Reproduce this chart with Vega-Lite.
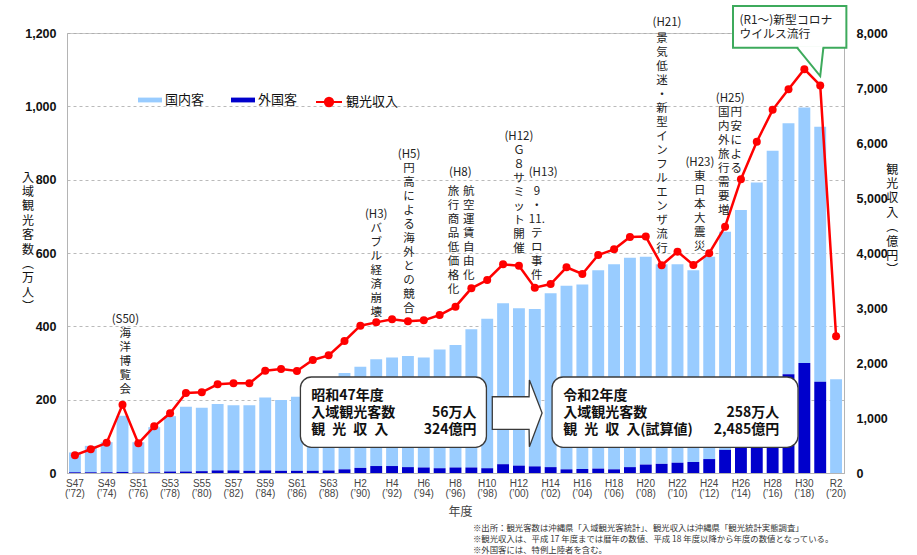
{
  "$schema": "https://vega.github.io/schema/vega-lite/v6.json",
  "width": 777,
  "height": 440,
  "autosize": {"type": "none"},
  "padding": {"left": 67, "top": 33, "right": 73, "bottom": 82},
  "background": "white",
  "config": {
    "font": "Noto Sans CJK JP",
    "view": {"stroke": "#c8c8c8", "strokeWidth": 1},
    "axis": {"domainColor": "#b4b4b4", "ticks": false}
  },
  "datasets": {
    "stats": [
      {"fy": 1972, "国内客": 54, "外国客": 2, "観光収入": 324},
      {"fy": 1973, "国内客": 72, "外国客": 2, "観光収入": 432},
      {"fy": 1974, "国内客": 82, "外国客": 2, "観光収入": 548},
      {"fy": 1975, "国内客": 153, "外国客": 3, "観光収入": 1242},
      {"fy": 1976, "国内客": 83, "外国客": 1, "観光収入": 539},
      {"fy": 1977, "国内客": 123, "外国客": 2, "観光収入": 848},
      {"fy": 1978, "国内客": 151, "外国客": 4, "観光収入": 1085},
      {"fy": 1979, "国内客": 177, "外国客": 4, "観光収入": 1455},
      {"fy": 1980, "国内客": 173, "外国客": 5, "観光収入": 1467},
      {"fy": 1981, "国内客": 181, "外国客": 7, "観光収入": 1612},
      {"fy": 1982, "国内客": 178, "外国客": 7, "観光収入": 1630},
      {"fy": 1983, "国内客": 179, "外国客": 6, "観光収入": 1630},
      {"fy": 1984, "国内客": 199, "外国客": 7, "観光収入": 1861},
      {"fy": 1985, "国内客": 193, "外国客": 6, "観光収入": 1891},
      {"fy": 1986, "国内客": 202, "外国客": 6, "観光収入": 1855},
      {"fy": 1987, "国内客": 220, "外国客": 6, "観光収入": 2055},
      {"fy": 1988, "国内客": 233, "外国客": 7, "観光収入": 2139},
      {"fy": 1989, "国内客": 263, "外国客": 10, "観光収入": 2400},
      {"fy": 1990, "国内客": 276, "外国客": 14, "観光収入": 2679},
      {"fy": 1991, "国内客": 291, "外国客": 19, "観光収入": 2739},
      {"fy": 1992, "国内客": 296, "外国客": 19, "観光収入": 2794},
      {"fy": 1993, "国内客": 303, "外国客": 16, "観光収入": 2758},
      {"fy": 1994, "国内客": 300, "外国客": 15, "観光収入": 2776},
      {"fy": 1995, "国内客": 324, "外国客": 13, "観光収入": 2873},
      {"fy": 1996, "国内客": 334, "外国客": 15, "観光収入": 3024},
      {"fy": 1997, "国内客": 377, "外国客": 15, "観光収入": 3358},
      {"fy": 1998, "国内客": 408, "外国客": 13, "観光収入": 3509},
      {"fy": 1999, "国内客": 439, "外国客": 24, "観光収入": 3794},
      {"fy": 2000, "国内客": 429, "外国客": 20, "観光収入": 3770},
      {"fy": 2001, "国内客": 429, "外国客": 18, "観光収入": 3370},
      {"fy": 2002, "国内客": 474, "外国客": 16, "観光収入": 3436},
      {"fy": 2003, "国内客": 501, "外国客": 10, "観光収入": 3739},
      {"fy": 2004, "国内客": 503, "外国客": 11, "観光収入": 3618},
      {"fy": 2005, "国内客": 541, "外国客": 12, "観光収入": 3964},
      {"fy": 2006, "国内客": 559, "外国客": 10, "観光収入": 4067},
      {"fy": 2007, "国内客": 571, "外国客": 16, "観光収入": 4289},
      {"fy": 2008, "国内客": 567, "外国客": 23, "観光収入": 4299},
      {"fy": 2009, "国内客": 544, "外国客": 25, "観光収入": 3778},
      {"fy": 2010, "国内客": 541, "外国客": 28, "観光収入": 4025},
      {"fy": 2011, "国内客": 523, "外国客": 30, "観光収入": 3783},
      {"fy": 2012, "国内客": 552, "外国客": 38, "観光収入": 3997},
      {"fy": 2013, "国内客": 595, "外国客": 63, "観光収入": 4479},
      {"fy": 2014, "国内客": 628, "外国客": 89, "観光収入": 5342},
      {"fy": 2015, "国内客": 625, "外国客": 167, "観光収入": 6022},
      {"fy": 2016, "国内客": 666, "外国客": 213, "観光収入": 6603},
      {"fy": 2017, "国内客": 685, "外国客": 269, "観光収入": 6979},
      {"fy": 2018, "国内客": 697, "外国客": 300, "観光収入": 7341},
      {"fy": 2019, "国内客": 695, "外国客": 249, "観光収入": 7047},
      {"fy": 2020, "国内客": 256, "外国客": 0, "観光収入": 2485}
    ],
    "vtext": [
      {"x": 1975.18, "y": 433.6, "t": "(S50)\n海\n洋\n博\n覧\n会"},
      {"x": 1991.0, "y": 720, "t": "(H3)\nバ\nブ\nル\n経\n済\n崩\n壊"},
      {"x": 1993.07, "y": 883.6, "t": "(H5)\n円\n高\nに\nよ\nる\n海\n外\nと\nの\n競\n合"},
      {"x": 1996.3, "y": 833.7, "t": "(H8)"},
      {"x": 1995.88, "y": 783.5, "t": "旅\n行\n商\n品\n低\n価\n格\n化"},
      {"x": 1996.83, "y": 783.5, "t": "航\n空\n運\n賃\n自\n由\n化"},
      {"x": 2000.0, "y": 933.5, "t": "(H12)\nＧ\n８\nサ\nミ\nッ\nト\n開\n催"},
      {"x": 2001.53, "y": 834.5, "t": "(H13)"},
      {"x": 2001.13, "y": 782, "t": "9\n・\n11.\nテ\nロ\n事\n件"},
      {"x": 2009.34, "y": 1242.8, "t": "(H21)"},
      {"x": 2009.02, "y": 1199, "t": "景\n気\n低\n迷\n・\n新\n型\nイ\nン\nフ\nル\nエ\nン\nザ\n流\n行"},
      {"x": 2011.41, "y": 861, "t": "(H23)\n東\n日\n本\n大\n震\n災"},
      {"x": 2013.33, "y": 1035.5, "t": "(H25)"},
      {"x": 2012.91, "y": 997.4, "t": "国\n内\n外\n旅\n行\n需\n要\n増"},
      {"x": 2013.7, "y": 997.4, "t": "円\n安\nに\nよ\nる"}
    ],
    "boxes": [
      {"x": 1986.22, "x2": 1997.95, "y": 261.8, "y2": 70.1},
      {"x": 2002.09, "x2": 2017.6, "y": 261.8, "y2": 70.1}
    ],
    "callout": [
      {"x": 2013.5, "x2": 2020.65, "y": 1273.6, "y2": 1160}
    ],
    "arrow": [
      {"x": 1998.32, "y": 208, "y2": 119},
      {"x": 2000.64, "y": 208, "y2": 119},
      {"x": 2000.66, "y": 253.6, "y2": 71.7},
      {"x": 2001.46, "y": 163.6, "y2": 163.6}
    ],
    "gap": [{"x": 2017.62, "x2": 2019.15, "y": 1160}],
    "pointer": [
      {"x": 2017.54, "y": 1160},
      {"x": 2019.0, "y": 1082.7},
      {"x": 2019.2, "y": 1160}
    ],
    "boxleft": [
      {"x": 1986.9, "y": 229.9, "t": "昭和47年度\n入域観光客数\n観\u2002光\u2002収\u2002入"},
      {"x": 2002.8, "y": 229.9, "t": "令和2年度\n入域観光客数\n観\u2002光\u2002収\u2002入(試算値)"}
    ],
    "boxright": [
      {"x": 1997.33, "y": 181.9, "t": "56万人\n324億円"},
      {"x": 2016.42, "y": 181.9, "t": "258万人\n2,485億円"}
    ],
    "callouttext": [
      {"x": 2013.91, "y": 1250, "t": "(R1～)新型コロナ\nウイルス流行"}
    ],
    "notes": [
      {"x": 1997.1, "y": -139, "t": "※出所：観光客数は沖縄県「入域観光客統計」、観光収入は沖縄県「観光統計実態調査」\n※観光収入は、平成 17 年度までは暦年の数値、平成 18 年度以降から年度の数値となっている。\n※外国客には、特例上陸者を含む。"}
    ]
  },
  "layer": [
    {
      "data": {"name": "stats"},
      "transform": [{"fold": ["国内客", "外国客"], "as": ["区分", "客数"]}],
      "mark": {"type": "bar"},
      "encoding": {
        "x": {
          "field": "fy", "type": "ordinal",
          "scale": {"paddingInner": 0.25, "paddingOuter": 0.125},
          "axis": {
            "title": "年度", "labelAngle": 0, "labelOverlap": false,
            "labelExpr": "datum.value % 2 == 0 ? [datum.value < 1989 ? 'S' + (datum.value - 1925) : (datum.value < 2019 ? 'H' + (datum.value - 1988) : 'R' + (datum.value - 2018)), '(’' + substring(toString(datum.value), 2, 4) + ')'] : ''",
            "labelFont": "Liberation Sans", "labelFontSize": 10, "labelLineHeight": 10.5,
            "labelPadding": 5, "labelColor": "#444",
            "titleFont": "Noto Sans CJK JP", "titleFontSize": 12, "titleFontWeight": "normal", "titleColor": "#444",
            "titleX": 393, "titleY": 38, "titleBaseline": "middle", "titleAlign": "center"
          }
        },
        "y": {
          "field": "客数", "type": "quantitative", "stack": "zero",
          "scale": {"domain": [0, 1200], "nice": false},
          "axis": {
            "values": [0, 200, 400, 600, 800, 1000, 1200], "format": ",.0f",
            "grid": true, "gridDash": [3, 3], "gridColor": "#a8a8a8", "gridWidth": 0.8,
            "labelFont": "Liberation Sans", "labelFontWeight": "bold", "labelFontSize": 12.5,
            "labelColor": "#111", "labelPadding": 11,
            "title": ["入", "域", "観", "光", "客", "数", "︵", "万", "人", "︶"],
            "titleAngle": 0, "titleX": -39.5, "titleY": 139, "titleBaseline": "top", "titleAlign": "center",
            "titleFontSize": 12, "titleFontWeight": "normal", "titleLineHeight": 14.4, "titleColor": "#111"
          }
        },
        "color": {
          "field": "区分", "type": "nominal",
          "scale": {"domain": ["国内客", "外国客"], "range": ["#99CCFF", "#0000CC"]},
          "legend": {
            "orient": "none", "legendX": 71, "legendY": 55, "direction": "horizontal", "title": null,
            "symbolType": "M-1,-0.2H1V0.2H-1Z", "symbolSize": 576, "symbolStrokeWidth": 0,
            "labelFont": "Noto Sans CJK JP", "labelFontSize": 13, "labelColor": "#111",
            "labelOffset": 3, "columnPadding": 26, "padding": 0
          }
        },
        "order": {"field": "区分", "sort": "descending"}
      }
    },
    {
      "data": {"name": "stats"},
      "mark": {"type": "line", "strokeWidth": 2.5, "point": {"filled": true, "size": 64}},
      "encoding": {
        "x": {"field": "fy", "type": "ordinal", "scale": {"type": "point", "padding": 0.5}, "axis": null},
        "y": {
          "field": "観光収入", "type": "quantitative",
          "scale": {"domain": [0, 8000], "nice": false},
          "axis": {
            "orient": "right", "values": [0, 1000, 2000, 3000, 4000, 5000, 6000, 7000, 8000], "format": ",.0f",
            "grid": false,
            "labelFont": "Liberation Sans", "labelFontWeight": "bold", "labelFontSize": 12.5,
            "labelColor": "#111", "labelPadding": 12,
            "title": ["観", "光", "収", "入", "︵", "億", "円", "︶"],
            "titleAngle": 0, "titleX": 47.7, "titleY": 131, "titleBaseline": "top", "titleAlign": "center",
            "titleFontSize": 12, "titleFontWeight": "normal", "titleLineHeight": 14.4, "titleColor": "#111"
          }
        },
        "color": {
          "datum": "観光収入", "type": "nominal",
          "scale": {"domain": ["観光収入"], "range": ["#FF0000"]},
          "legend": {
            "orient": "none", "legendX": 248, "legendY": 55, "title": null,
            "symbolType": "M-1,0H1M0.32,0A0.32,0.32,0,1,1,-0.32,0A0.32,0.32,0,1,1,0.32,0Z",
            "symbolSize": 676, "symbolStrokeWidth": 2, "symbolFillColor": "#FF0000", "symbolStrokeColor": "#FF0000",
            "labelFont": "Noto Sans CJK JP", "labelFontSize": 13, "labelColor": "#111",
            "labelOffset": 3, "padding": 0
          }
        }
      }
    },
    {
      "layer": [
        {
          "data": {"name": "boxes"},
          "mark": {"type": "rect", "fill": "white", "stroke": "#3a3a3a", "strokeWidth": 1.3, "cornerRadius": 11},
          "encoding": {
            "x": {"field": "x", "type": "quantitative", "scale": {"domain": [1971.5, 2020.5], "nice": false, "zero": false}, "axis": null},
            "x2": {"field": "x2"},
            "y": {"field": "y", "type": "quantitative", "scale": {"domain": [0, 1200], "nice": false, "zero": false}, "axis": null},
            "y2": {"field": "y2"}
          }
        },
        {
          "data": {"name": "callout"},
          "mark": {"type": "rect", "fill": "white", "stroke": "#3DAA5C", "strokeWidth": 2},
          "encoding": {
            "x": {"field": "x", "type": "quantitative", "scale": {"domain": [1971.5, 2020.5], "nice": false, "zero": false}, "axis": null},
            "x2": {"field": "x2"},
            "y": {"field": "y", "type": "quantitative", "scale": {"domain": [0, 1200], "nice": false, "zero": false}, "axis": null},
            "y2": {"field": "y2"}
          }
        },
        {
          "data": {"name": "arrow"},
          "mark": {"type": "area", "fill": "white", "stroke": "#3a3a3a", "strokeWidth": 1.3, "orient": "vertical"},
          "encoding": {
            "x": {"field": "x", "type": "quantitative", "scale": {"domain": [1971.5, 2020.5], "nice": false, "zero": false}, "axis": null},
            "y": {"field": "y", "type": "quantitative", "scale": {"domain": [0, 1200], "nice": false, "zero": false}, "axis": null},
            "y2": {"field": "y2"}
          }
        },
        {
          "data": {"name": "gap"},
          "mark": {"type": "rule", "stroke": "white", "strokeWidth": 3},
          "encoding": {
            "x": {"field": "x", "type": "quantitative", "scale": {"domain": [1971.5, 2020.5], "nice": false, "zero": false}, "axis": null},
            "x2": {"field": "x2"},
            "y": {"field": "y", "type": "quantitative", "scale": {"domain": [0, 1200], "nice": false, "zero": false}, "axis": null}
          }
        },
        {
          "data": {"name": "pointer"},
          "mark": {"type": "line", "stroke": "#3DAA5C", "strokeWidth": 2},
          "encoding": {
            "x": {"field": "x", "type": "quantitative", "scale": {"domain": [1971.5, 2020.5], "nice": false, "zero": false}, "axis": null},
            "y": {"field": "y", "type": "quantitative", "scale": {"domain": [0, 1200], "nice": false, "zero": false}, "axis": null}
          }
        },
        {
          "data": {"name": "vtext"},
          "mark": {"type": "text", "align": "center", "baseline": "top", "lineBreak": "\n", "fontSize": 11.5, "lineHeight": 14, "color": "#222", "font": "Noto Sans CJK JP"},
          "encoding": {
            "x": {"field": "x", "type": "quantitative", "scale": {"domain": [1971.5, 2020.5], "nice": false, "zero": false}, "axis": null},
            "y": {"field": "y", "type": "quantitative", "scale": {"domain": [0, 1200], "nice": false, "zero": false}, "axis": null},
            "text": {"field": "t"}
          }
        },
        {
          "data": {"name": "boxleft"},
          "mark": {"type": "text", "align": "left", "baseline": "top", "lineBreak": "\n", "fontSize": 14, "fontWeight": "bold", "lineHeight": 17, "color": "#111", "font": "Noto Sans CJK JP"},
          "encoding": {
            "x": {"field": "x", "type": "quantitative", "scale": {"domain": [1971.5, 2020.5], "nice": false, "zero": false}, "axis": null},
            "y": {"field": "y", "type": "quantitative", "scale": {"domain": [0, 1200], "nice": false, "zero": false}, "axis": null},
            "text": {"field": "t"}
          }
        },
        {
          "data": {"name": "boxright"},
          "mark": {"type": "text", "align": "right", "baseline": "top", "lineBreak": "\n", "fontSize": 14, "fontWeight": "bold", "lineHeight": 17, "color": "#111", "font": "Noto Sans CJK JP"},
          "encoding": {
            "x": {"field": "x", "type": "quantitative", "scale": {"domain": [1971.5, 2020.5], "nice": false, "zero": false}, "axis": null},
            "y": {"field": "y", "type": "quantitative", "scale": {"domain": [0, 1200], "nice": false, "zero": false}, "axis": null},
            "text": {"field": "t"}
          }
        },
        {
          "data": {"name": "callouttext"},
          "mark": {"type": "text", "align": "left", "baseline": "top", "lineBreak": "\n", "fontSize": 11.8, "lineHeight": 14.3, "color": "#222", "font": "Noto Sans CJK JP"},
          "encoding": {
            "x": {"field": "x", "type": "quantitative", "scale": {"domain": [1971.5, 2020.5], "nice": false, "zero": false}, "axis": null},
            "y": {"field": "y", "type": "quantitative", "scale": {"domain": [0, 1200], "nice": false, "zero": false}, "axis": null},
            "text": {"field": "t"}
          }
        },
        {
          "data": {"name": "notes"},
          "mark": {"type": "text", "align": "left", "baseline": "top", "lineBreak": "\n", "fontSize": 8.4, "lineHeight": 11, "color": "#333", "font": "Noto Sans CJK JP"},
          "encoding": {
            "x": {"field": "x", "type": "quantitative", "scale": {"domain": [1971.5, 2020.5], "nice": false, "zero": false}, "axis": null},
            "y": {"field": "y", "type": "quantitative", "scale": {"domain": [0, 1200], "nice": false, "zero": false}, "axis": null},
            "text": {"field": "t"}
          }
        }
      ]
    }
  ],
  "resolve": {"scale": {"x": "independent", "y": "independent", "color": "independent"}}
}
